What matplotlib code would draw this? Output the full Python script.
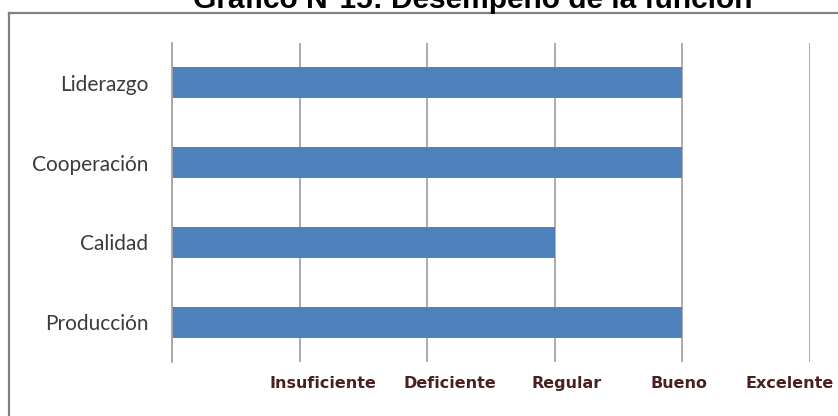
import matplotlib.pyplot as plt
from matplotlib.lines import Line2D

# datos
categorias = ['Producción', 'Calidad', 'Cooperación', 'Liderazgo']
valores = [4, 3, 4, 4]
niveles = ['Insuficiente', 'Deficiente', 'Regular', 'Bueno', 'Excelente']
titulo = 'Gráfico N°15: Desempeño de la función'

fig = plt.figure(figsize=(8.38, 4.16), dpi=100)
ax = fig.add_axes([172 / 838, 1 - 362 / 416, 638 / 838, 319 / 416])

ax.barh(range(len(categorias)), valores, height=0.39, color='#4f81bd', zorder=2)

ax.set_xlim(0, 5)
ax.set_ylim(-0.5, len(categorias) - 0.5)
ax.set_yticks(range(len(categorias)))
ax.set_yticklabels(categorias, fontsize=15, color='#3c3c3c', family='Lato')
ax.tick_params(axis='y', length=0, pad=17)

ax.set_xticks(range(0, 6))
ax.set_xticklabels([])
ax.tick_params(axis='x', length=0)
ax.grid(axis='x', color='#a6a6a6', linewidth=1.3, zorder=0)

for s in ['top', 'right', 'bottom']:
    ax.spines[s].set_visible(False)
ax.spines['left'].set_color('#a6a6a6')
ax.spines['left'].set_linewidth(1.3)

# etiquetas de los niveles (un poco desplazadas como en el original)
desfase = [0.18, 0.18, 0.09, -0.03, -0.16]
for i, (nv, d) in enumerate(zip(niveles, desfase)):
    ax.text(i + 1 + d, -0.5 - 14 / 80, nv, ha='center', va='top',
            fontsize=11.5, fontweight='bold', color='#4a2020', family='DejaVu Sans')

# titulo recortado y marco
fig.text(473 / 838, 1 - 8.5 / 416, titulo, ha='center', va='baseline',
         fontsize=21.5, fontweight='bold', family='Liberation Sans')
fig.add_artist(Line2D([9 / 838, 1], [1 - 12.5 / 416] * 2, color='#808080', lw=1.6))
fig.add_artist(Line2D([9 / 838] * 2, [1 - 12.5 / 416, 0], color='#808080', lw=1.6))

fig.savefig('out.png', dpi=100)
